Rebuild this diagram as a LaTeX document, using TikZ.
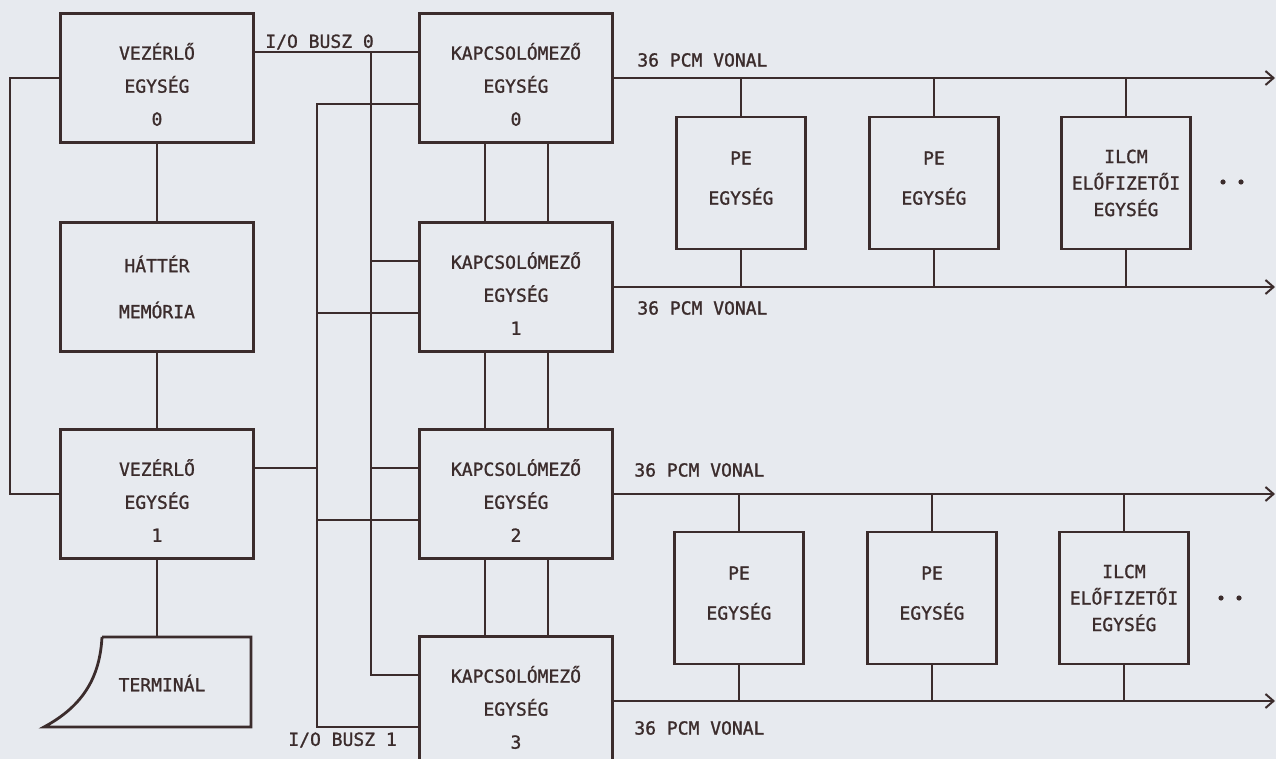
\documentclass[tikz,border=0pt]{standalone}
\usepackage{fontspec}
\setmainfont{DejaVu Sans Mono}[FakeBold=1.2]
\usetikzlibrary{arrows.meta}
\definecolor{paper}{HTML}{E7EAEF}
\definecolor{ink}{HTML}{3B2C2C}
\newcommand{\topgap}{\rule{0pt}{14.8pt}}
\newcommand{\botgap}{\rule[-5pt]{0pt}{5pt}}
\tikzset{
    every node/.style={text=ink, font=\fontsize{9}{16.5}\selectfont},
    % --- dobozok ---
    unitbox/.style={draw=ink, line width=1.4pt, minimum width=96.5pt,
                    minimum height=64.5pt, align=center, inner sep=0pt},
    pebox/.style={draw=ink, line width=1.4pt, minimum width=64.5pt,
                  minimum height=66pt, align=center, inner sep=0pt,
                  font=\fontsize{9}{13.25}\selectfont},
    % --- vonalak ---
    wire/.style={draw=ink, line width=1pt},
    pcm/.style={wire, -{Straight Barb[length=4pt, width=7pt]}},
    lbl/.style={anchor=west, inner sep=0pt}
}

\begin{document}
\begin{tikzpicture}[x=0.5pt, y=-0.5pt]
    \fill[paper] (0,0) rectangle (1276,759);
    \useasboundingbox (0,0) rectangle (1276,759);
    \clip (0,0) rectangle (1276,759);

    \coordinate (bus0) at (371,0);
    \coordinate (bus1) at (317,0);
    \coordinate (pcmend) at (1275,0);

    % vezerlo oldal
    \node[unitbox] (vez0) at (157,78) {\topgap VEZÉRLŐ\\EGYSÉG\\0};
    \node[unitbox] (hatter) at (157,287) {HÁTTÉR\\[6.5pt]MEMÓRIA};
    \node[unitbox] (vez1) at (157,494) {\topgap VEZÉRLŐ\\EGYSÉG\\1};
    \node (term) at (162,683) {TERMINÁL};
    \coordinate (termtop) at (102,637);
    \draw[ink, line width=1.4pt, line join=miter] (termtop) -- (251,637) -- (251,727) -- (44,727)
        .. controls (85,705) and (100,675) .. (termtop);

    \draw[wire] (vez0.south) -- (hatter.north);
    \draw[wire] (hatter.south) -- (vez1.north);
    \draw[wire] (vez1.south) -- (vez1.south |- termtop);
    \draw[wire] (vez0.west) -- ++(-49,0) |- (vez1.west);

    % kapcsolomezok
    \node[unitbox] (kap0) at (516,78) {\topgap KAPCSOLÓMEZŐ\\EGYSÉG\\0};
    \node[unitbox] (kap1) at (516,287) {\topgap KAPCSOLÓMEZŐ\\EGYSÉG\\1};
    \node[unitbox] (kap2) at (516,494) {\topgap KAPCSOLÓMEZŐ\\EGYSÉG\\2};
    \node[unitbox] (kap3) at (516,701) {\topgap KAPCSOLÓMEZŐ\\EGYSÉG\\3};

    \foreach \a/\b in {kap0/kap1,kap1/kap2,kap2/kap3} {
        \draw[wire] ([xshift=-15.5pt]\a.south) -- ([xshift=-15.5pt]\b.north);
        \draw[wire] ([xshift=16pt]\a.south) -- ([xshift=16pt]\b.north);
    }

    % I/O buszok
    \draw[wire] ([yshift=13pt]vez0.east) -- ([yshift=13pt]kap0.west);
    \draw[wire] ([yshift=13pt]kap0.west -| bus0) |- ([yshift=13pt]kap3.west);
    \draw[wire] ([yshift=-13pt]kap0.west) -| ([yshift=-13pt]kap3.west -| bus1)
        -- ([yshift=-13pt]kap3.west);
    \foreach \k in {kap1,kap2} {
        \draw[wire] ([yshift=13pt]\k.west -| bus0) -- ([yshift=13pt]\k.west);
        \draw[wire] ([yshift=-13pt]\k.west -| bus1) -- ([yshift=-13pt]\k.west);
    }
    \draw[wire] ([yshift=13pt]vez1.east) -- ([yshift=13pt]vez1.east -| bus1);
    \node[lbl] (busz0) at (265,42) {I/O BUSZ 0};
    \node[lbl] (busz1) at (288,740) {I/O BUSZ 1};

    % PCM vonalak
    \foreach \k in {kap0,kap1,kap2,kap3}
        \draw[pcm] (\k.east) -- (\k.east -| pcmend);
    \node[lbl] (pcm0) at (637,60) {36 PCM VONAL};
    \node[lbl] (pcm1) at (637,308) {36 PCM VONAL};
    \node[lbl] (pcm2) at (634,470) {36 PCM VONAL};
    \node[lbl] (pcm3) at (634,728) {36 PCM VONAL};

    % PE egysegek
    \node[pebox] (pe0) at (741,183) {PE\\[6.75pt]EGYSÉG\botgap};
    \node[pebox] (pe1) at (934,183) {PE\\[6.75pt]EGYSÉG\botgap};
    \node[pebox] (ilcm0) at (1126,183) {ILCM\\ELŐFIZETŐI\\EGYSÉG};
    \node[pebox] (pe2) at (739,598) {PE\\[6.75pt]EGYSÉG\botgap};
    \node[pebox] (pe3) at (932,598) {PE\\[6.75pt]EGYSÉG\botgap};
    \node[pebox] (ilcm1) at (1124,598) {ILCM\\ELŐFIZETŐI\\EGYSÉG};

    \foreach \p in {pe0,pe1,ilcm0} {
        \draw[wire] (\p.north) -- (\p.north |- kap0.east);
        \draw[wire] (\p.south) -- (\p.south |- kap1.east);
    }
    \foreach \p in {pe2,pe3,ilcm1} {
        \draw[wire] (\p.north) -- (\p.north |- kap2.east);
        \draw[wire] (\p.south) -- (\p.south |- kap3.east);
    }

    \foreach \x/\y in {1223/182,1241/182,1221/598,1239/598}
        \fill[ink] (\x,\y) circle[radius=1.3pt];
\end{tikzpicture}
\end{document}
